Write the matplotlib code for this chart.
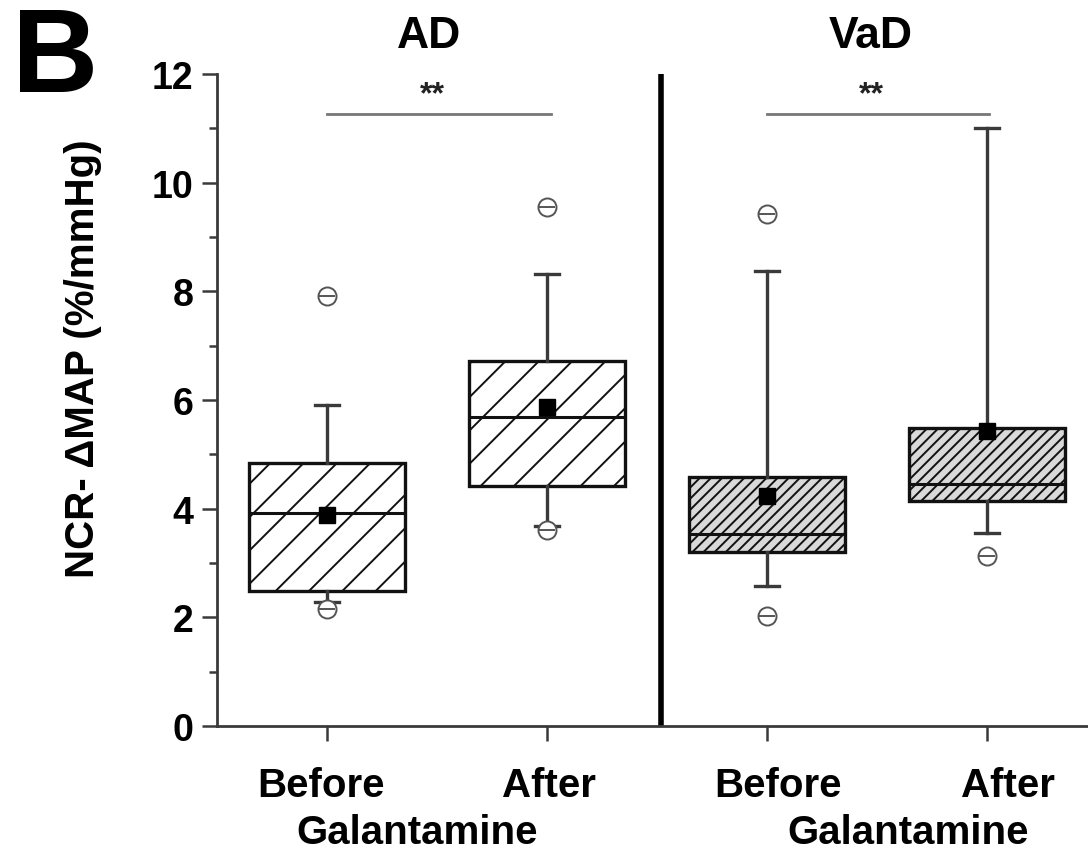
import matplotlib.pyplot as plt
from matplotlib.transforms import ScaledTranslation

plt.rcParams["font.family"] = ["Liberation Sans", "DejaVu Sans"]
plt.rcParams["font.weight"] = "bold"
plt.rcParams["hatch.linewidth"] = 1.4

# box statistics
groups = ["AD", "AD", "VaD", "VaD"]
labels = ["Before", "After", "Before", "After"]
q1 = [2.49, 4.42, 3.20, 4.14]
med = [3.92, 5.69, 3.53, 4.46]
q3 = [4.84, 6.72, 4.59, 5.49]
whislo = [2.28, 3.68, 2.58, 3.55]
whishi = [5.91, 8.31, 8.38, 11.01]
means = [3.88, 5.87, 4.23, 5.43]
fliers = [[2.15, 7.92], [3.60, 9.56], [2.03, 9.43], [3.13]]
positions = [1, 2, 3, 4]

sig_y = 11.27
sig_pairs = [(1.0, 2.02), (3.0, 4.01)]

stats = []
for i in range(4):
    stats.append(dict(med=med[i], q1=q1[i], q3=q3[i], whislo=whislo[i],
                      whishi=whishi[i], mean=means[i], fliers=fliers[i],
                      label=labels[i]))

fig = plt.figure(figsize=(10.88, 8.53), dpi=100)
ax = fig.add_axes([0.1994, 0.1477, 0.8006, 0.7644])

grey = "#3a3a3a"
bp = ax.bxp(stats, positions=positions, widths=0.71, capwidths=0.11,
            patch_artist=True, showmeans=True, showfliers=True,
            boxprops=dict(linewidth=2.4, edgecolor="#111111"),
            medianprops=dict(color="#111111", linewidth=2.2),
            whiskerprops=dict(color=grey, linewidth=2.4),
            capprops=dict(color=grey, linewidth=2.4),
            meanprops=dict(marker="s", markerfacecolor="black",
                           markeredgecolor="black", markersize=11),
            flierprops=dict(marker="o", markerfacecolor="white",
                            markeredgecolor="#555555", markersize=13,
                            markeredgewidth=1.4))
for i, box in enumerate(bp["boxes"]):
    if groups[i] == "AD":
        box.set_facecolor("white")
        box.set_hatch("/")
    else:
        box.set_facecolor("#d9d9d9")
        box.set_hatch("///")

# horizontal stroke through each outlier circle
for i in range(4):
    ax.plot([positions[i]] * len(fliers[i]), fliers[i], linestyle="",
            marker="_", markersize=12, markeredgecolor="#555555",
            markeredgewidth=1.4)

# significance bars
for (x0, x1) in sig_pairs:
    ax.plot([x0, x1], [sig_y, sig_y], color="#777777", linewidth=2)
    ax.text((x0 + x1) / 2 - 0.03, sig_y + 0.08, "**", ha="center",
            va="bottom", fontsize=23, color="#222222")

# divider between AD and VaD
ax.axvline(2.52, color="black", linewidth=4)

ax.set_xlim(0.5, 4.46)
ax.set_ylim(0, 12)
ax.set_yticks(range(0, 13, 2))
ax.set_yticks(range(1, 12, 2), minor=True)
ax.set_xticks(positions)
ax.set_xticklabels(labels, fontsize=29)
ax.tick_params(axis="y", labelsize=27, width=1.8, length=11, color=grey, pad=6)
ax.tick_params(axis="y", which="minor", width=1.8, length=6, color=grey)
ax.tick_params(axis="x", width=1.8, length=11, color=grey, pad=18)
for s in ["top", "right"]:
    ax.spines[s].set_visible(False)
for s in ["left", "bottom"]:
    ax.spines[s].set_linewidth(2)
    ax.spines[s].set_color(grey)

# labels of the VaD group sit a little right of their ticks
shift = [-0.06, 0.02, 0.11, 0.21]
for lab, dx in zip(ax.get_xticklabels(), shift):
    lab.set_transform(lab.get_transform() +
                      ScaledTranslation(dx, 0, fig.dpi_scale_trans))

fig.text(0.394, 0.957, "AD", ha="center", va="center", fontsize=32)
fig.text(0.800, 0.957, "VaD", ha="center", va="center", fontsize=32)
fig.text(0.383, 0.024, "Galantamine", ha="center", va="center", fontsize=29)
fig.text(0.835, 0.024, "Galantamine", ha="center", va="center", fontsize=29)

fig.text(0.051, 0.928, "B", fontsize=86, ha="center", va="center")
fig.text(0.076, 0.58, "NCR- \u0394MAP (%/mmHg)", rotation=90, ha="center",
         va="center", fontsize=29)

fig.savefig("out.png", dpi=100)
